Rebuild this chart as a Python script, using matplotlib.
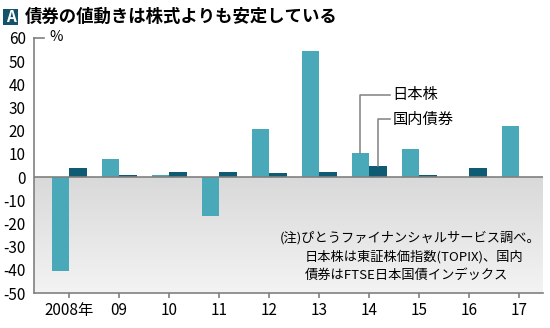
import numpy as np
import matplotlib
matplotlib.use("Agg")
import matplotlib.pyplot as plt
from matplotlib.patches import Rectangle

plt.rcParams['font.family'] = ['Noto Sans CJK JP', 'DejaVu Sans']

years = ["2008年", "09", "10", "11", "12", "13", "14", "15", "16", "17"]
stocks = [-40.5, 7.6, 1.0, -16.9, 20.9, 54.4, 10.3, 12.1, 0.2, 22.2]
bonds = [3.8, 0.9, 2.4, 2.2, 1.9, 2.3, 5.0, 1.1, 3.8, 0.1]
yticks = [60, 50, 40, 30, 20, 10, 0, -10, -20, -30, -40, -50]

title = "債券の値動きは株式よりも安定している"
note1 = "(注)ぴとうファイナンシャルサービス調べ。"
note2 = "日本株は東証株価指数(TOPIX)、国内"
note3 = "債券はFTSE日本国債インデックス"

c_stock = "#4aa9b8"
c_bond = "#0f5b73"
c_axis = "#808080"

W, H = 550, 328
fig = plt.figure(figsize=(5.5, 3.28), dpi=100)
ax = fig.add_axes([34 / W, 1 - 293 / H, (543 - 34) / W, (293 - 38) / H])

x = np.arange(len(years))
bw = 0.35
ax.set_xlim(-0.7, 9.48)
ax.set_ylim(-50, 60)

# gray gradient below zero
grad = np.linspace(0, 1, 100).reshape(-1, 1)
ax.imshow(grad, extent=[-0.7, 9.48, -50, 0], aspect='auto',
          cmap=matplotlib.colors.LinearSegmentedColormap.from_list('g', ['#f3f3f3', '#d9d9d9']),
          origin='lower', zorder=0)

ax.bar(x - bw, stocks, width=bw, align='edge', color=c_stock, zorder=2)
ax.bar(x, bonds, width=bw, align='edge', color=c_bond, zorder=2)
ax.axhline(0, color=c_axis, lw=1.2, zorder=3)

for s in ['top', 'right']:
    ax.spines[s].set_visible(False)
for s in ['left', 'bottom']:
    ax.spines[s].set_color(c_axis)
    ax.spines[s].set_linewidth(1.2)

ax.set_yticks(yticks)
ax.set_yticklabels([str(v) for v in yticks], fontsize=11)
ax.tick_params(axis='y', length=0, pad=6)
ax.set_xticks(x)
ax.set_xticklabels(years, fontsize=11)
ax.tick_params(axis='x', length=3.5, color=c_axis, width=1.2, pad=3)

# top corner mark and unit
ax.plot([-0.7, -0.5], [60, 60], color=c_axis, lw=1.2, clip_on=False, zorder=3)
ax.text(-0.4, 60.5, "%", fontsize=10.5, va='center', ha='left')

# legend leader lines
sx = x[6] - bw / 2
bx = x[6] + bw / 2
ly1, ly2 = 35.5, 25.0
lx = 6.42
ax.plot([sx, sx, lx], [stocks[6], ly1, ly1], color=c_axis, lw=1.1, zorder=3)
ax.plot([bx, bx, lx], [bonds[6], ly2, ly2], color=c_axis, lw=1.1, zorder=3)
ax.text(lx + 0.05, ly1, "日本株", fontsize=11, va='center', ha='left')
ax.text(lx + 0.05, ly2, "国内債券", fontsize=11, va='center', ha='left')

# notes
fig.text(280 / W, 1 - 238 / H, note1, fontsize=9.5, va='center', ha='left')
fig.text(305 / W, 1 - 257 / H, note2, fontsize=9.5, va='center', ha='left')
fig.text(305 / W, 1 - 275 / H, note3, fontsize=9.5, va='center', ha='left')

# title with box
fig.add_artist(Rectangle((3.3 / W, 1 - 25 / H), 15 / W, 16 / H,
                         transform=fig.transFigure, fc='#14536a', ec='none'))
fig.text(10.8 / W, 1 - 17 / H, "A", fontsize=11, color='white', weight='bold',
         ha='center', va='center')
fig.text(25 / W, 1 - 17 / H, title, fontsize=12.5, weight='bold', ha='left', va='center')

fig.savefig("out.png", dpi=100)
